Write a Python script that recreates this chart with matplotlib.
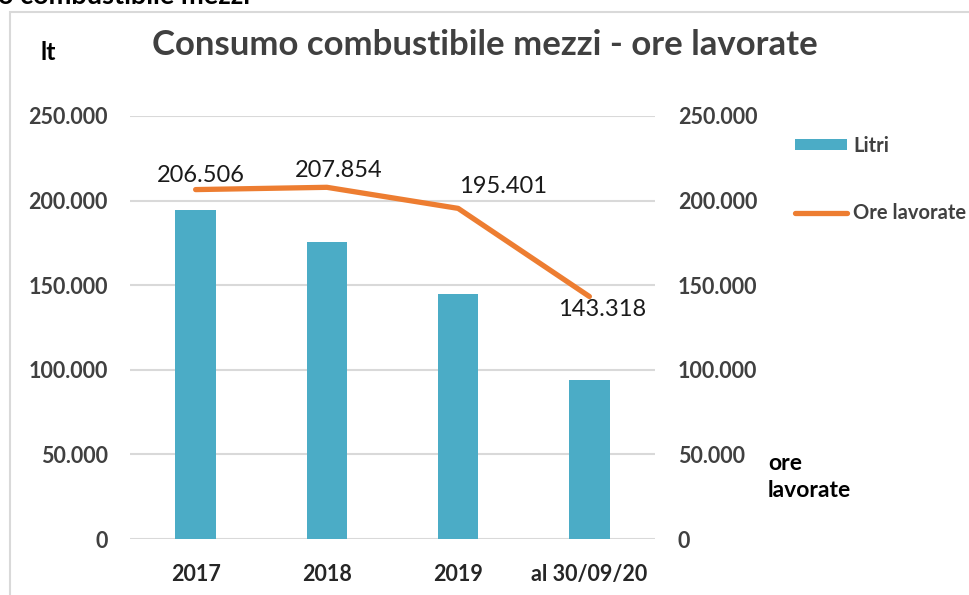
import matplotlib
matplotlib.use("Agg")
import matplotlib.pyplot as plt
from matplotlib.patches import Rectangle, Patch
from matplotlib.lines import Line2D
from matplotlib.ticker import FuncFormatter
import numpy as np

categories = ["2017", "2018", "2019", "al 30/09/20"]
litri = [194500, 175700, 144600, 94000]
ore_lavorate = [206506, 207854, 195401, 143318]
ore_labels = ["206.506", "207.854", "195.401", "143.318"]
yticks = [0, 50000, 100000, 150000, 200000, 250000]

plt.rcParams['font.family'] = ['Lato', 'DejaVu Sans']

W, H = 969, 595
fig = plt.figure(figsize=(W / 100, H / 100), dpi=100)

def fx(px):
    return px / W

def fy(py):
    return 1 - py / H

# outer frame
fig.patches.append(Rectangle((fx(10), fy(700)), fx(1100), fy(12) - fy(700),
                             transform=fig.transFigure, fill=False,
                             edgecolor="#D9D9D9", linewidth=1.5))
# cut-off text at top
fig.text(fx(-2), fy(4), "o combustibile mezzi", fontsize=19.5, fontweight="bold",
         color="black", ha="left", va="baseline")

ax = fig.add_axes([fx(130), fy(539), fx(655) - fx(130), fy(116) - fy(539)])
x = np.arange(len(categories))
ax.bar(x, litri, width=0.31, color="#4BACC6", zorder=3)
ax.set_xlim(-0.5, len(categories) - 0.5)
ax.set_ylim(0, 250000)
ax.set_yticks(yticks)
fmt = FuncFormatter(lambda v, p: f"{int(v):,}".replace(",", "."))
ax.yaxis.set_major_formatter(fmt)
ax.grid(axis="y", color="#D9D9D9", linewidth=1.5, zorder=0)
for s in ["top", "right", "left", "bottom"]:
    ax.spines[s].set_visible(False)
ax.tick_params(axis="y", length=0, pad=16, labelsize=15.5, labelcolor="#404040")
ax.set_xticks(x)
ax.set_xticklabels(categories)
ax.tick_params(axis="x", length=0, pad=18, labelsize=15.5, labelcolor="#262626")
for lab in ax.get_yticklabels() + ax.get_xticklabels():
    lab.set_fontweight("bold")

ax2 = ax.twinx()
ax2.set_ylim(0, 250000)
ax2.set_yticks(yticks)
ax2.yaxis.set_major_formatter(fmt)
for s in ["top", "right", "left", "bottom"]:
    ax2.spines[s].set_visible(False)
ax2.tick_params(axis="y", length=0, pad=16.5, labelsize=15.5, labelcolor="#404040")
for lab in ax2.get_yticklabels():
    lab.set_fontweight("bold")
ax2.plot(x, ore_lavorate, color="#ED7D31", linewidth=3.8, solid_capstyle="round", zorder=4)

offsets = [(5, 14), (12, 17), (45, 22), (13, -13)]
for xi, yi, lab, (dx, dy) in zip(x, ore_lavorate, ore_labels, offsets):
    ax2.annotate(lab, (xi, yi), xytext=(dx, dy), textcoords="offset pixels",
                 ha="center", va="center", fontsize=17, color="#1a1a1a")

# titles / axis labels
fig.text(fx(485), fy(45), "Consumo combustibile mezzi - ore lavorate", fontsize=25,
         fontweight="bold", color="#404040", ha="center", va="center")
fig.text(fx(40), fy(52), "lt", fontsize=18, fontweight="bold", color="black",
         ha="left", va="center")
fig.text(fx(768), fy(477), "ore\nlavorate", fontsize=16.5, fontweight="bold",
         color="black", ha="left", va="center", linespacing=1.35)

handles = [Patch(facecolor="#4BACC6", edgecolor="none"),
           Line2D([0], [0], color="#ED7D31", linewidth=3.8, solid_capstyle="round")]
fig.legend(handles, ["Litri", "Ore lavorate"], loc="upper left",
           bbox_to_anchor=(fx(795), fy(136)), frameon=False,
           prop={"weight": "bold", "size": 14.5}, labelcolor="#404040",
           handlelength=2.6, handleheight=0.45, handletextpad=0.3, labelspacing=2.35,
           borderaxespad=0, borderpad=0)

fig.savefig("out.png", dpi=100)
